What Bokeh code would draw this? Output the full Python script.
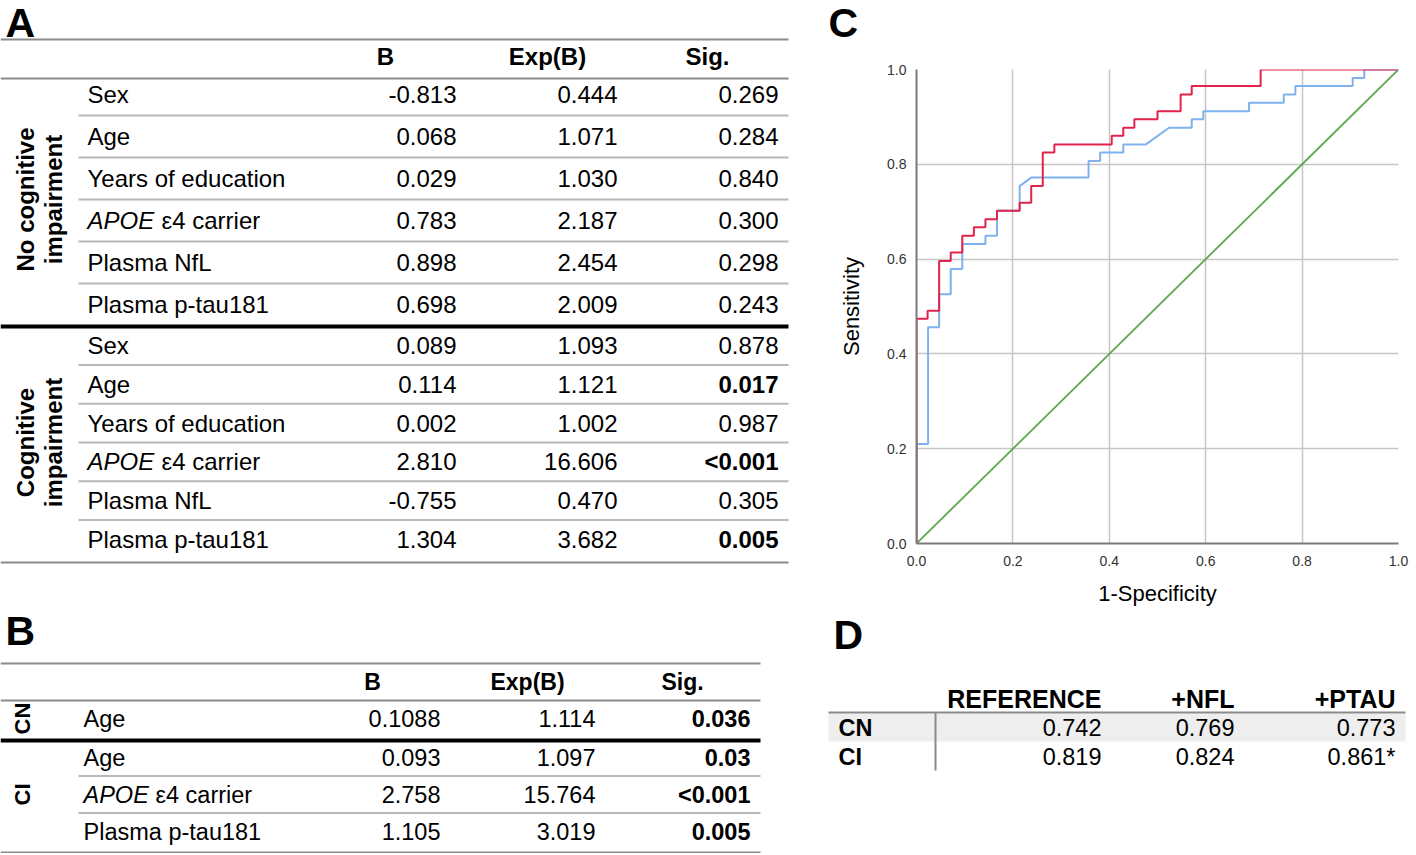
import math
from bokeh.plotting import figure
from bokeh.layouts import row, column
from bokeh.models import Range1d, FixedTicker, PrintfTickFormatter
from bokeh.core.properties import value
from bokeh.embed import file_html
from bokeh.resources import INLINE

FONT = "Liberation Sans"

# ---------------- data ----------------
A_headers = ["B", "Exp(B)", "Sig."]
A_rows = ["Sex", "Age", "Years of education", "APOE ε4 carrier", "Plasma NfL", "Plasma p-tau181"]
A_group1 = ["No cognitive", "impairment"]
A_group2 = ["Cognitive", "impairment"]
A_nci_B = ["-0.813", "0.068", "0.029", "0.783", "0.898", "0.698"]
A_nci_expB = ["0.444", "1.071", "1.030", "2.187", "2.454", "2.009"]
A_nci_sig = ["0.269", "0.284", "0.840", "0.300", "0.298", "0.243"]
A_nci_sig_bold = [False, False, False, False, False, False]
A_ci_B = ["0.089", "0.114", "0.002", "2.810", "-0.755", "1.304"]
A_ci_expB = ["1.093", "1.121", "1.002", "16.606", "0.470", "3.682"]
A_ci_sig = ["0.878", "0.017", "0.987", "<0.001", "0.305", "0.005"]
A_ci_sig_bold = [False, True, False, True, False, True]

B_headers = ["B", "Exp(B)", "Sig."]
B_cn_group = "CN"
B_cn_rows = ["Age"]
B_cn_B = ["0.1088"]
B_cn_expB = ["1.114"]
B_cn_sig = ["0.036"]
B_cn_sig_bold = [True]
B_ci_group = "CI"
B_ci_rows = ["Age", "APOE ε4 carrier", "Plasma p-tau181"]
B_ci_B = ["0.093", "2.758", "1.105"]
B_ci_expB = ["1.097", "15.764", "3.019"]
B_ci_sig = ["0.03", "<0.001", "0.005"]
B_ci_sig_bold = [True, True, True]

D_headers = ["REFERENCE", "+NFL", "+PTAU"]
D_rows = ["CN", "CI"]
D_reference = ["0.742", "0.819"]
D_nfl = ["0.769", "0.824"]
D_ptau = ["0.773", "0.861*"]

roc_ticks = [0.0, 0.2, 0.4, 0.6, 0.8, 1.0]
roc_red_fpr = [0.0, 0.0, 0.023, 0.023, 0.047, 0.047, 0.071, 0.071, 0.095, 0.095, 0.119, 0.119,
               0.143, 0.143, 0.167, 0.167, 0.214, 0.214, 0.238, 0.238, 0.262, 0.262, 0.286, 0.286,
               0.405, 0.405, 0.429, 0.429, 0.452, 0.452, 0.500, 0.500, 0.548, 0.548, 0.571, 0.571,
               0.714, 0.714, 1.0]
roc_red_tpr = [0.0, 0.474, 0.474, 0.491, 0.491, 0.596, 0.596, 0.614, 0.614, 0.649, 0.649, 0.667,
               0.667, 0.684, 0.684, 0.702, 0.702, 0.719, 0.719, 0.754, 0.754, 0.825, 0.825, 0.842,
               0.842, 0.860, 0.860, 0.877, 0.877, 0.895, 0.895, 0.912, 0.912, 0.947, 0.947, 0.965,
               0.965, 1.0, 1.0]
roc_blue_fpr = [0.0, 0.0, 0.024, 0.024, 0.047, 0.047, 0.071, 0.071, 0.095, 0.095, 0.143, 0.143,
                0.167, 0.167, 0.214, 0.214, 0.238, 0.357, 0.357, 0.381, 0.381, 0.429, 0.429, 0.476,
                0.524, 0.571, 0.571, 0.595, 0.595, 0.690, 0.690, 0.762, 0.762, 0.786, 0.786, 0.905,
                0.905, 0.929, 0.929, 1.0]
roc_blue_tpr = [0.0, 0.210, 0.210, 0.456, 0.456, 0.526, 0.526, 0.579, 0.579, 0.632, 0.632, 0.649,
                0.649, 0.702, 0.702, 0.754, 0.772, 0.772, 0.807, 0.807, 0.825, 0.825, 0.842, 0.842,
                0.877, 0.877, 0.895, 0.895, 0.912, 0.912, 0.930, 0.930, 0.947, 0.947, 0.965, 0.965,
                0.982, 0.982, 1.0, 1.0]
roc_chance = [0.0, 1.0]

# ---------------- layout helpers ----------------
TOTAL_W = 1414
TOTAL_H = 853
LEFT_W = 808
RIGHT_W = TOTAL_W - LEFT_W
C_H = 60
ROC_H = 548
D_TOP = C_H + ROC_H


def no_align(p):
    try:
        p.frame_align = False
    except Exception:
        pass


def table_fig(x0, y0, w, h):
    p = figure(width=w, height=h, x_range=Range1d(x0, x0 + w), y_range=Range1d(y0 + h, y0),
               output_backend="svg", toolbar_location=None, x_axis_type=None, y_axis_type=None,
               min_border=0)
    p.outline_line_color = None
    p.grid.visible = False
    p.background_fill_color = "white"
    p.border_fill_color = "white"
    no_align(p)
    return p


def txt(p, x, y, s, size, style="normal", align="left", angle=0.0, baseline="middle", color="black"):
    p.text(x=[x], y=[y], text=[s], text_font=value(FONT), text_font_size=value(size),
           text_font_style=style, text_align=align, text_baseline=baseline, angle=angle,
           text_color=color)


def hline(p, y, x0, x1, color, width):
    p.segment(x0=[x0], y0=[y], x1=[x1], y1=[y], line_color=color, line_width=width)


def label_cell(p, x, y, s, size, italic_gap):
    if s.startswith("APOE "):
        txt(p, x, y, "APOE", size, style="italic")
        txt(p, x + italic_gap, y, s[5:], size)
    else:
        txt(p, x, y, s, size)


def draw_block(p, ys, rows, bvals, evals, svals, sbold, label_x, vx, size, gap):
    for i, y in enumerate(ys):
        label_cell(p, label_x, y, rows[i], size, gap)
        txt(p, vx[0], y, bvals[i], size, align="right")
        txt(p, vx[1], y, evals[i], size, align="right")
        txt(p, vx[2], y, svals[i], size, align="right", style="bold" if sbold[i] else "normal")


GRAY = "#8a8a8a"
LIGHT = "#b8b8b8"
TS = "24px"

# ---------------- left: tables A and B ----------------
left = table_fig(0, 0, LEFT_W, TOTAL_H)

# Table A
txt(left, 5, 22, "A", "41px", style="bold")
A_xr = 788
hline(left, 39, 0, A_xr, GRAY, 2)
for hx, hs in zip([385, 547, 707], A_headers):
    txt(left, hx, 56, hs, TS, style="bold", align="center")
hline(left, 78, 0, A_xr, GRAY, 2)

A_val_x = [456, 617, 778]
nci_y = [94 + 42 * i for i in range(len(A_rows))]
draw_block(left, nci_y, A_rows, A_nci_B, A_nci_expB, A_nci_sig, A_nci_sig_bold, 87, A_val_x, TS, 74)
for i in range(len(nci_y) - 1):
    hline(left, (nci_y[i] + nci_y[i + 1]) / 2, 78, A_xr, LIGHT, 2)
hline(left, 326, 0, A_xr, "black", 4)
ci_y = [345 + 38.8 * i for i in range(len(A_rows))]
draw_block(left, ci_y, A_rows, A_ci_B, A_ci_expB, A_ci_sig, A_ci_sig_bold, 87, A_val_x, TS, 74)
for i in range(len(ci_y) - 1):
    hline(left, (ci_y[i] + ci_y[i + 1]) / 2, 78, A_xr, LIGHT, 2)
hline(left, 562, 0, A_xr, GRAY, 2)

g1c = (nci_y[0] + nci_y[-1]) / 2
txt(left, 25, g1c, A_group1[0], "24px", style="bold", align="center", angle=math.pi / 2)
txt(left, 53, g1c, A_group1[1], "24px", style="bold", align="center", angle=math.pi / 2)
g2c = (ci_y[0] + ci_y[-1]) / 2
txt(left, 25, g2c, A_group2[0], "24px", style="bold", align="center", angle=math.pi / 2)
txt(left, 53, g2c, A_group2[1], "24px", style="bold", align="center", angle=math.pi / 2)

# Table B
txt(left, 5, 630, "B", "41px", style="bold")
B_xr = 760
hline(left, 663, 0, B_xr, GRAY, 2)
for hx, hs in zip([372, 527, 682], B_headers):
    txt(left, hx, 681, hs, "23px", style="bold", align="center")
hline(left, 700, 0, B_xr, GRAY, 2)
B_val_x = [440, 595, 750]
cn_y = [718]
draw_block(left, cn_y, B_cn_rows, B_cn_B, B_cn_expB, B_cn_sig, B_cn_sig_bold, 83, B_val_x, "23.5px", 72)
txt(left, 22, cn_y[0], B_cn_group, "22px", style="bold", align="center", angle=math.pi / 2)
hline(left, 740, 0, B_xr, "black", 4)
bci_y = [757 + 37 * i for i in range(len(B_ci_rows))]
draw_block(left, bci_y, B_ci_rows, B_ci_B, B_ci_expB, B_ci_sig, B_ci_sig_bold, 83, B_val_x, "23.5px", 72)
for i in range(len(bci_y) - 1):
    hline(left, (bci_y[i] + bci_y[i + 1]) / 2, 78, B_xr, LIGHT, 2)
txt(left, 22, (bci_y[0] + bci_y[-1]) / 2, B_ci_group, "22px", style="bold", align="center", angle=math.pi / 2)
hline(left, 852, 0, B_xr, GRAY, 2)

# ---------------- right: C title, ROC, table D ----------------
cfig = table_fig(LEFT_W, 0, RIGHT_W, C_H)
txt(cfig, 828, 22, "C", "41px", style="bold")

roc = figure(width=RIGHT_W, height=ROC_H, x_range=Range1d(0, 1), y_range=Range1d(0, 1),
             output_backend="svg", toolbar_location=None,
             min_border_left=108, min_border_right=16, min_border_top=9, min_border_bottom=58)
no_align(roc)
roc.outline_line_color = None
roc.line(roc_chance, roc_chance, line_color="#5DA84E", line_width=1.8)
roc.line(roc_blue_fpr, roc_blue_tpr, line_color="#7EB2EE", line_width=2)
roc.line(roc_red_fpr, roc_red_tpr, line_color="#E2234B", line_width=2)
for ax in (roc.xaxis[0], roc.yaxis[0]):
    ax.ticker = FixedTicker(ticks=roc_ticks)
    ax.formatter = PrintfTickFormatter(format="%.1f")
    ax.major_tick_line_color = None
    ax.minor_tick_line_color = None
    ax.axis_line_color = "#7a7a7a"
    ax.axis_line_width = 2
    ax.major_label_text_font = FONT
    ax.major_label_text_font_size = "14px"
    ax.major_label_text_color = "#333333"
    ax.axis_label_text_font = FONT
    ax.axis_label_text_font_size = "22px"
    ax.axis_label_text_font_style = "normal"
    ax.axis_label_text_color = "black"
roc.xaxis.axis_label = "1-Specificity"
roc.yaxis.axis_label = "Sensitivity"
roc.xaxis.major_label_standoff = 6
roc.yaxis.major_label_standoff = 4
roc.xaxis.axis_label_standoff = 12
roc.yaxis.axis_label_standoff = 20
roc.grid.grid_line_color = "#c6c6c6"
roc.grid.grid_line_width = 1.5

dfig = table_fig(LEFT_W, D_TOP, RIGHT_W, TOTAL_H - D_TOP)
txt(dfig, 833, 634, "D", "41px", style="bold")
dfig.quad(left=[828], right=[1405], top=[713], bottom=[741], fill_color="#eeeeee", line_color=None)
for hx, hs in zip([1101, 1234, 1395], D_headers):
    txt(dfig, hx, 698, hs, "25px", style="bold", align="right")
hline(dfig, 712, 828, 1405, GRAY, 2)
dfig.segment(x0=[935], y0=[712], x1=[935], y1=[770], line_color=GRAY, line_width=2)
d_y = [727, 756]
for i, y in enumerate(d_y):
    txt(dfig, 838, y, D_rows[i], "23.5px", style="bold")
    txt(dfig, 1101, y, D_reference[i], "23.5px", align="right")
    txt(dfig, 1234, y, D_nfl[i], "23.5px", align="right")
    txt(dfig, 1395, y, D_ptau[i], "23.5px", align="right")

layout = row(left, column(cfig, roc, dfig))
open("out.html", "w").write(file_html(layout, INLINE))
